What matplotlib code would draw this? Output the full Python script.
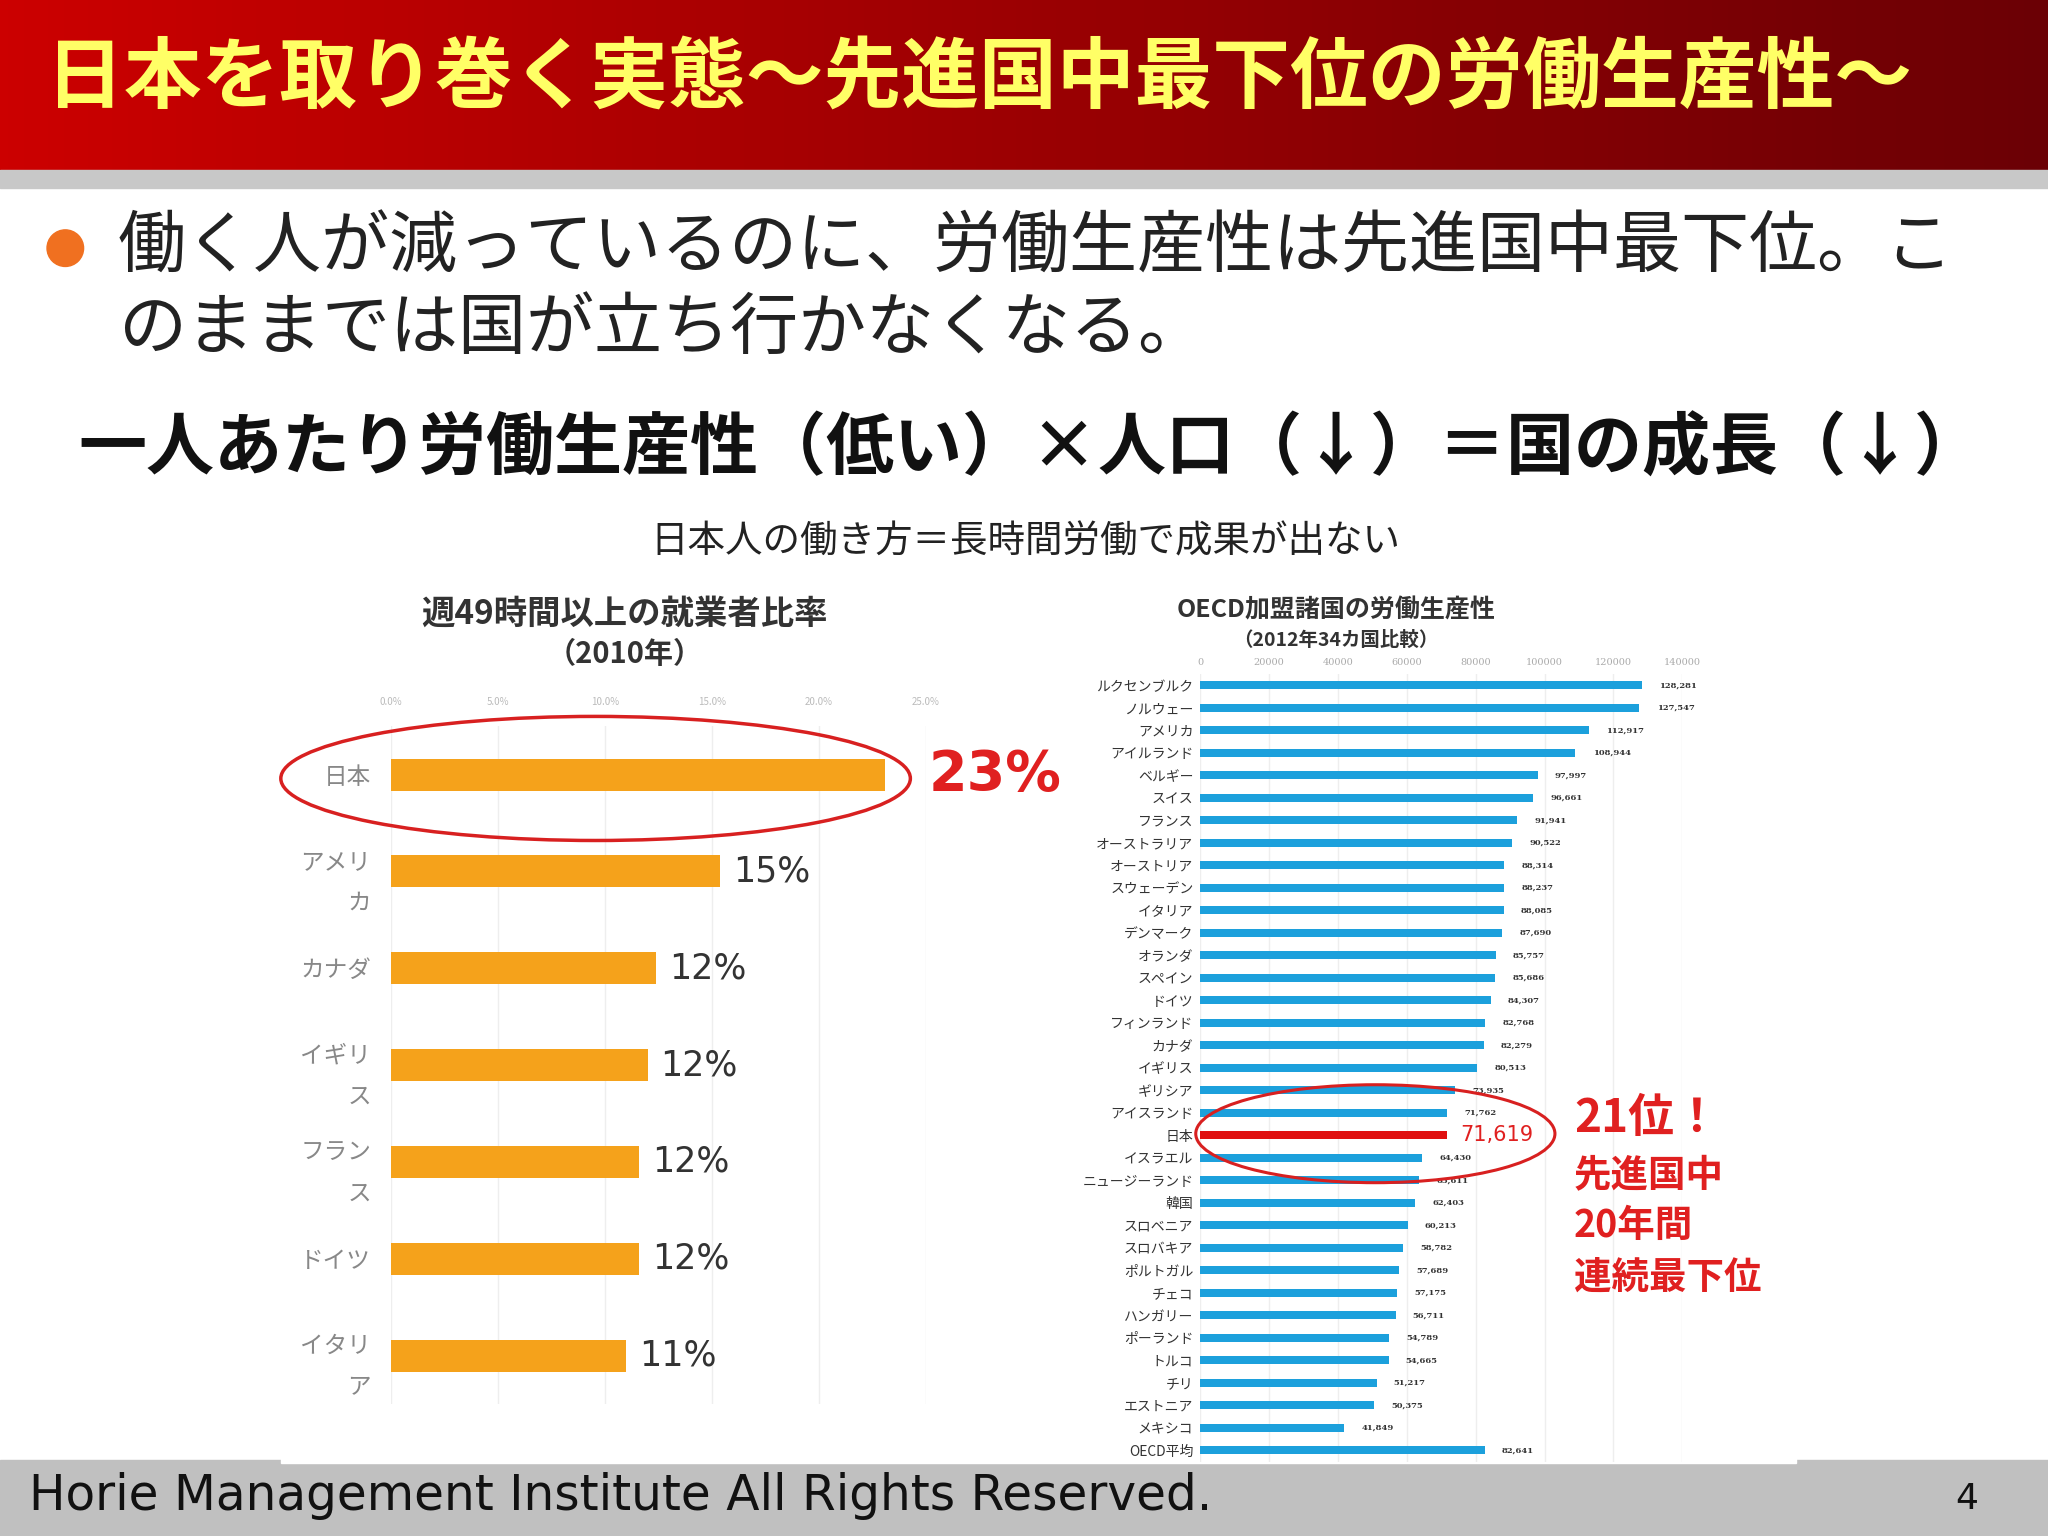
import matplotlib
matplotlib.use("Agg")
import matplotlib.pyplot as plt
import numpy as np
from matplotlib.patches import Ellipse, Rectangle, Circle

plt.rcParams['font.family'] = ['Noto Sans CJK JP', 'DejaVu Sans']

W, H = 1568.0, 1176.0
fig = plt.figure(figsize=(20.48, 15.36), dpi=100)
bg = fig.add_axes([0, 0, 1, 1])
bg.set_xlim(0, W); bg.set_ylim(H, 0); bg.axis('off')

def ax_rect(x0, y0, x1, y1):
    return [x0 / W, 1 - y1 / H, (x1 - x0) / W, (y1 - y0) / H]

# header gradient
grad = np.linspace(0, 1, 256)
cols = np.zeros((1, 256, 3))
c0 = np.array([0.80, 0.0, 0.0]); c1 = np.array([0.42, 0.0, 0.02])
cols[0] = c0 + (c1 - c0) * grad[:, None]
bg.imshow(cols, extent=[0, W, 130, 0], aspect='auto', zorder=0)
bg.add_patch(Rectangle((0, 130), W, 14, color='#c8c8c8', zorder=1))
bg.text(35, 60, "日本を取り巻く実態～先進国中最下位の労働生産性～", color='#ffff66',
        fontsize=56, fontweight='bold', va='center', ha='left')

bg.add_patch(Circle((50, 190), 14, color='#f07020'))
bg.text(90, 190, "働く人が減っているのに、労働生産性は先進国中最下位。こ", fontsize=49,
        va='center', color='#222222')
bg.text(90, 253, "のままでは国が立ち行かなくなる。", fontsize=49, va='center', color='#222222')
bg.text(60, 345, "一人あたり労働生産性（低い）×人口（↓）＝国の成長（↓）", fontsize=49,
        fontweight='bold', va='center', color='#111111')
bg.text(785, 415, "日本人の働き方＝長時間労働で成果が出ない", fontsize=27, ha='center',
        va='center', color='#222222')

# footer
bg.add_patch(Rectangle((0, 1118), W, 58, color='#c0c0c0', zorder=1))
bg.add_patch(Rectangle((215, 440), 1160, 680, color='white', zorder=1))
bg.text(22, 1145, "Horie Management Institute All Rights Reserved.", fontsize=35,
        va='center', color='#111111', family='DejaVu Sans', zorder=3)
bg.text(1497, 1148, "4", fontsize=26, va='center', color='#111111', family='DejaVu Sans', zorder=3)

# ---------------- left chart ----------------
left_labels = ["日本", "アメリ\nカ", "カナダ", "イギリ\nス", "フラン\nス", "ドイツ", "イタリ\nア"]
left_values = [23.1, 15.4, 12.4, 12.0, 11.6, 11.6, 11.0]
left_text = ["23%", "15%", "12%", "12%", "12%", "12%", "11%"]
left_ticks = [0, 5, 10, 15, 20, 25]

axl = fig.add_axes(ax_rect(299, 556, 709, 1075))
axl.patch.set_visible(False)
y = np.arange(len(left_values))
axl.barh(y, left_values, height=0.33, color='#f5a21b', zorder=3)
axl.set_ylim(len(left_values) - 0.5, -0.5)
axl.set_xlim(0, 25)
axl.set_xticks(left_ticks)
axl.set_xticklabels([f"{t:.1f}%" for t in left_ticks], fontsize=7, color='#bbbbbb')
axl.xaxis.tick_top()
axl.set_yticks(y)
axl.set_yticklabels(left_labels, fontsize=17, color='#888888', linespacing=2.0)
axl.tick_params(length=0, pad=14)
axl.grid(axis='x', color='#eeeeee', lw=1, zorder=0)
for s in axl.spines.values():
    s.set_visible(False)
for i, (v, t) in enumerate(zip(left_values, left_text)):
    if i == 0:
        axl.text(v + 2.0, i, t, fontsize=40, fontweight='bold', color='#e02020',
                 va='center', family='DejaVu Sans', clip_on=False)
    else:
        axl.text(v + 0.6, i, t, fontsize=25, color='#333333', va='center',
                 family='DejaVu Sans')

# ---------------- right chart ----------------
countries = ["ルクセンブルク", "ノルウェー", "アメリカ", "アイルランド", "ベルギー", "スイス",
             "フランス", "オーストラリア", "オーストリア", "スウェーデン", "イタリア", "デンマーク",
             "オランダ", "スペイン", "ドイツ", "フィンランド", "カナダ", "イギリス", "ギリシア",
             "アイスランド", "日本", "イスラエル", "ニュージーランド", "韓国", "スロベニア",
             "スロバキア", "ポルトガル", "チェコ", "ハンガリー", "ポーランド", "トルコ", "チリ",
             "エストニア", "メキシコ", "OECD平均"]
productivity = [128281, 127547, 112917, 108944, 97997, 96661, 91941, 90522, 88314, 88237,
                88085, 87690, 85757, 85686, 84307, 82768, 82279, 80513, 73935, 71762,
                71619, 64430, 63611, 62403, 60213, 58782, 57689, 57175, 56711, 54789,
                54665, 51217, 50375, 41849, 82641]
right_ticks = [0, 20000, 40000, 60000, 80000, 100000, 120000, 140000]

axr = fig.add_axes(ax_rect(919, 516, 1288, 1119))
axr.patch.set_visible(False)
yr = np.arange(len(productivity))
colors = ['#e01010' if c == "日本" else '#1ca0dc' for c in countries]
axr.barh(yr, productivity, height=0.34, color=colors, zorder=3)
axr.set_ylim(len(productivity) - 0.5, -0.5)
axr.set_xlim(0, 140000)
axr.set_xticks(right_ticks)
axr.set_xticklabels([str(t) for t in right_ticks], fontsize=7, color='#aaaaaa',
                    family='DejaVu Serif')
axr.xaxis.tick_top()
axr.set_yticks(yr)
axr.set_yticklabels(countries, fontsize=10, color='#333333')
axr.tick_params(length=0, pad=5)
axr.grid(axis='x', color='#eeeeee', lw=1, zorder=0)
for s in axr.spines.values():
    s.set_visible(False)
for i, (c, v) in enumerate(zip(countries, productivity)):
    if c == "日本":
        axr.text(v + 4000, i, f"{v:,}", fontsize=15, color='#e02020', va='center',
                 family='DejaVu Sans')
    else:
        axr.text(v + 5000, i, f"{v:,}", fontsize=6, fontweight='bold', color='#333333',
                 va='center', family='DejaVu Serif', clip_on=False)

# ---------------- overlay annotations ----------------
ov = fig.add_axes([0, 0, 1, 1])
ov.set_xlim(0, W); ov.set_ylim(H, 0); ov.axis('off'); ov.patch.set_visible(False)
ov.text(478, 470, "週49時間以上の就業者比率", fontsize=24, fontweight='bold', ha='center',
        va='center', color='#333333')
ov.text(478, 501, "（2010年）", fontsize=21, fontweight='bold', ha='center', va='center',
        color='#333333')
ov.add_patch(Ellipse((456, 596), 482, 95, fill=False, ec='#d82020', lw=2.5))
ov.text(1023, 467, "OECD加盟諸国の労働生産性", fontsize=18, fontweight='bold', ha='center',
        va='center', color='#333333')
ov.text(1023, 490, "（2012年34カ国比較）", fontsize=14, fontweight='bold', ha='center',
        va='center', color='#333333')
ov.add_patch(Ellipse((1053, 868), 275, 75, fill=False, ec='#d82020', lw=2.2))
ov.text(1205, 857, "21位！", fontsize=33, fontweight='bold', color='#e02020', va='center')
for yy, t in zip([900, 938, 978], ["先進国中", "20年間", "連続最下位"]):
    ov.text(1205, yy, t, fontsize=27, fontweight='bold', color='#e02020', va='center')

fig.savefig("out.png", dpi=100)
